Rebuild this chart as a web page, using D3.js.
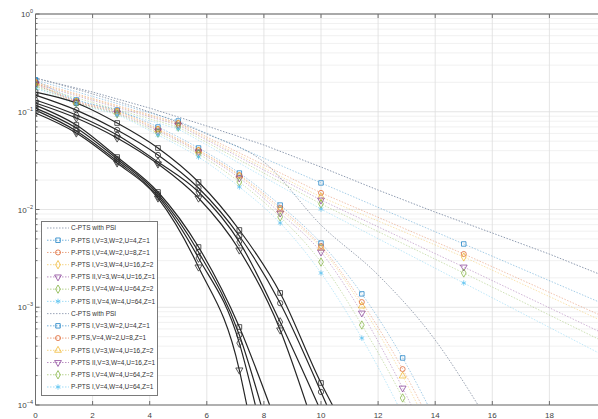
<!DOCTYPE html>
<html><head><meta charset="utf-8">
<script src="https://cdn.jsdelivr.net/npm/d3@7"></script>
<style>body{margin:0;background:#fff}svg{display:block}</style>
</head><body><svg id="c" width="598" height="419"></svg>
<script>
// ---------- data ----------
const xTicks = [0,2,4,6,8,10,12,14,16,18,20];
const xTickLabels = ["0","2","4","6","8","10","12","14","16","18"];
const yExps = [0,-1,-2,-3,-4];
const legendLabels = [
  "C-PTS with PSI",
  "P-PTS I,V=3,W=2,U=4,Z=1",
  "P-PTS I,V=4,W=2,U=8,Z=1",
  "P-PTS I,V=3,W=4,U=16,Z=2",
  "P-PTS II,V=3,W=4,U=16,Z=1",
  "P-PTS I,V=4,W=4,U=64,Z=2",
  "P-PTS II,V=4,W=4,U=64,Z=1",
  "C-PTS with PSI",
  "P-PTS I,V=3,W=2,U=4,Z=1",
  "P-PTS,V=4,W=2,U=8,Z=1",
  "P-PTS I,V=3,W=4,U=16,Z=2",
  "P-PTS II,V=3,W=4,U=16,Z=1",
  "P-PTS I,V=4,W=4,U=64,Z=2",
  "P-PTS I,V=4,W=4,U=64,Z=1"
];
const seriesColors = ["#0072BD","#D95319","#EDB120","#7E2F8E","#77AC30","#4DBEEE"];
const set1Markers = ["square","circle","diamond","triDown","diamond","asterisk"];
const set2Markers = ["square","circle","triUp","triDown","diamond","asterisk"];

// set 1: C-PTS reference line and slow-decaying P-PTS curves
const cpts1X = [0,2,4,6,8,10,12,14,16,18,20];
const cpts1Y = [0.221,0.159,0.109,0.0715,0.0457,0.0272,0.0158,0.0094,0.00575,0.0035,0.00204];
const set1X = [0,5,10,15,20];
const set1Y = [
  [0.211,0.0804,0.0187,0.00444,0.00105],
  [0.201,0.0767,0.0148,0.00351,0.000776],
  [0.197,0.0749,0.0134,0.00327,0.00069],
  [0.192,0.0732,0.0125,0.00258,0.00052],
  [0.183,0.0698,0.0114,0.00224,0.00043],
  [0.175,0.0667,0.0101,0.00177,0.00031]
];
// set 2: C-PTS reference line and fast-decaying P-PTS curves
const cpts2X = [0,2,4,6,8,10,12,14,15.5];
const cpts2Y = [0.221,0.152,0.0994,0.0592,0.0306,0.00694,0.00214,0.000462,0.0001];
const set2X = [0,1.43,2.86,4.29,5.71,7.14,8.57,10,11.43,12.86,14.29];
const set2Y = [
  [0.211,0.132,0.104,0.0698,0.0426,0.0236,0.0111,0.00454,0.00137,0.000303,0.000048],
  [0.201,0.129,0.102,0.0667,0.0406,0.0225,0.0104,0.00423,0.00113,0.000233,0.000035],
  [0.197,0.126,0.0994,0.0651,0.0397,0.0220,0.00989,0.00404,0.00103,0.000198,0.000028],
  [0.192,0.126,0.097,0.0636,0.0388,0.0210,0.0092,0.00367,0.000873,0.000149,0.000020],
  [0.183,0.123,0.0948,0.0606,0.0370,0.0191,0.00838,0.0029,0.000658,0.000118,0.000015],
  [0.175,0.120,0.0927,0.0578,0.0344,0.0170,0.00728,0.00224,0.000484,0.0000794,0.00001]
];
// solid black curves
const blackX = [
  [0,1.43,2.86,4.29,5.71,7.14,8.57,10,10.4],
  [0,1.43,2.86,4.29,5.71,7.14,8.57,10,10.2],
  [0,1.43,2.86,4.29,5.71,7.14,8.57,9.9],
  [0,1.43,2.86,4.29,5.71,7.14,8.57,9.5],
  [0,1.43,2.86,4.29,5.71,7.14,8.2],
  [0,1.43,2.86,4.29,5.71,7.14,7.9],
  [0,1.43,2.86,4.29,5.71,7.14,7.7],
  [0,1.43,2.86,4.29,5.71,7.14,7.4]
];
const blackY = [
  [0.159,0.123,0.0767,0.0426,0.0191,0.00617,0.0014,0.000168,0.0001],
  [0.148,0.104,0.0651,0.0361,0.0166,0.00536,0.0011,0.000136,0.0001],
  [0.132,0.0927,0.0578,0.0306,0.0151,0.00466,0.000706,0.0001],
  [0.123,0.0863,0.0539,0.0292,0.0131,0.00385,0.000585,0.0001],
  [0.117,0.0732,0.0344,0.0151,0.00413,0.000628,0.0001],
  [0.109,0.0682,0.0329,0.0144,0.00367,0.00052,0.0001],
  [0.104,0.0636,0.0313,0.0137,0.00319,0.00043,0.0001],
  [0.097,0.0606,0.0299,0.0131,0.00258,0.000228,0.0001]
];
const blackMarkers = ["square","circle","diamond","triDown","square","circle","diamond","triDown"];

// ---------- drawing ----------
const svg = d3.select("#c");
const L = 35.5, T = 14, B = 405, R = 606.5;
const x = d3.scaleLinear().domain([0,20]).range([L,R]);
const y = d3.scaleLog().domain([1e-4,1]).range([B,T]);

svg.append("defs").append("clipPath").attr("id","clip")
  .append("rect").attr("x",L).attr("y",T).attr("width",R-L).attr("height",B-T);

// grid
const grid = svg.append("g");
for (let d=-4; d<0; d++) for (let k=2;k<=9;k++){
  const v = k*Math.pow(10,d);
  grid.append("line").attr("x1",L).attr("x2",R).attr("y1",y(v)).attr("y2",y(v))
    .attr("stroke","#ebebeb").attr("stroke-width",0.7);
}
yExps.forEach(e=>{
  grid.append("line").attr("x1",L).attr("x2",R).attr("y1",y(Math.pow(10,e))).attr("y2",y(Math.pow(10,e)))
    .attr("stroke","#dedede").attr("stroke-width",0.8);
});
xTicks.forEach(t=>{
  grid.append("line").attr("x1",x(t)).attr("x2",x(t)).attr("y1",T).attr("y2",B)
    .attr("stroke","#dedede").attr("stroke-width",0.8);
});

function symType(name){
  if(name==="square") return d3.symbolSquare;
  if(name==="circle") return d3.symbolCircle;
  if(name==="diamond") return d3.symbolDiamond;
  if(name==="asterisk") return d3.symbolAsterisk;
  return d3.symbolTriangle;
}
function drawMarker(g, name, cx, cy, color, size, op){
  g.append("path").attr("d", d3.symbol().type(symType(name)).size(size)())
    .attr("transform", `translate(${cx},${cy})` + (name==="triDown"?" rotate(180)":""))
    .attr("fill","none").attr("stroke",color).attr("stroke-opacity",op).attr("stroke-width",0.9);
}

const plot = svg.append("g").attr("clip-path","url(#clip)");
const lineLin = d3.line().x(d=>x(d[0])).y(d=>y(d[1]));
const lineSmooth = d3.line().x(d=>x(d[0])).y(d=>y(d[1])).curve(d3.curveMonotoneX);

// C-PTS reference lines
plot.append("path").attr("d", lineLin(d3.zip(cpts1X,cpts1Y)))
  .attr("fill","none").attr("stroke","#8e9bb0").attr("stroke-width",1).attr("stroke-dasharray","1.5,1.5");
plot.append("path").attr("d", lineSmooth(d3.zip(cpts2X,cpts2Y)))
  .attr("fill","none").attr("stroke","#9aa3b2").attr("stroke-width",1).attr("stroke-dasharray","1.5,1.5");

// set 1 lines
set1Y.forEach((ys,i)=>{
  plot.append("path").attr("d", lineLin(d3.zip(set1X,ys)))
    .attr("fill","none").attr("stroke",seriesColors[i]).attr("stroke-opacity",0.4)
    .attr("stroke-width",0.9).attr("stroke-dasharray","1.5,1.5");
});
// set 2 lines
set2Y.forEach((ys,i)=>{
  plot.append("path").attr("d", lineSmooth(d3.zip(set2X,ys)))
    .attr("fill","none").attr("stroke",seriesColors[i]).attr("stroke-opacity",0.4)
    .attr("stroke-width",0.9).attr("stroke-dasharray","1.5,1.5");
});
// black solid lines
blackY.forEach((ys,i)=>{
  plot.append("path").attr("d", lineSmooth(d3.zip(blackX[i],ys)))
    .attr("fill","none").attr("stroke","#262626").attr("stroke-width",1.2);
});
// markers
blackY.forEach((ys,i)=>{
  ys.forEach((v,j)=>{ if(j<ys.length-1) drawMarker(plot, blackMarkers[i], x(blackX[i][j]), y(v), "#303030", 22, 0.9); });
});
set1Y.forEach((ys,i)=>{
  ys.forEach((v,j)=>drawMarker(plot, set1Markers[i], x(set1X[j]), y(v), seriesColors[i], 20, 0.75));
});
set2Y.forEach((ys,i)=>{
  ys.forEach((v,j)=>drawMarker(plot, set2Markers[i], x(set2X[j]), y(v), seriesColors[i], 20, 0.75));
});

// axes
const ax = svg.append("g").attr("stroke","#6e6e6e").attr("stroke-width",1);
ax.append("line").attr("x1",L).attr("x2",L).attr("y1",T).attr("y2",B);
ax.append("line").attr("x1",L).attr("x2",R).attr("y1",B).attr("y2",B);
ax.append("line").attr("x1",L).attr("x2",R).attr("y1",T).attr("y2",T).attr("stroke","#909090").attr("stroke-width",1.4);
xTicks.forEach(t=>{
  ax.append("line").attr("x1",x(t)).attr("x2",x(t)).attr("y1",B).attr("y2",B-4);
  ax.append("line").attr("x1",x(t)).attr("x2",x(t)).attr("y1",T).attr("y2",T+4);
});
for (let d=-4; d<=0; d++){
  ax.append("line").attr("x1",L).attr("x2",L+4).attr("y1",y(Math.pow(10,d))).attr("y2",y(Math.pow(10,d)));
  if(d<0) for(let k=2;k<=9;k++){
    const v=k*Math.pow(10,d);
    ax.append("line").attr("x1",L).attr("x2",L+2).attr("y1",y(v)).attr("y2",y(v));
  }
}
// tick labels
const lab = svg.append("g").attr("font-family","Liberation Sans, Arial, sans-serif").attr("fill","#444");
xTickLabels.forEach((s,i)=>{
  lab.append("text").attr("x",x(xTicks[i])).attr("y",418).attr("text-anchor","middle").attr("font-size",8).text(s);
});
yExps.forEach(e=>{
  const t = lab.append("text").attr("x",33).attr("y",y(Math.pow(10,e))+3).attr("text-anchor","end").attr("font-size",8);
  t.append("tspan").text("10");
  t.append("tspan").attr("dy",-4).attr("font-size",5.5).text(String(e).replace("-","\u2212"));
});

// legend
const lg = svg.append("g");
lg.append("rect").attr("x",41.5).attr("y",221.5).attr("width",116).attr("height",174)
  .attr("fill","#fff").attr("stroke","#7a7a7a").attr("stroke-width",1);
legendLabels.forEach((txt,i)=>{
  const cy = 228 + i*12.23;
  const isC = (i===0 || i===7);
  const si = i<7 ? i-1 : i-8;
  const col = isC ? "#8e9bb0" : seriesColors[si];
  lg.append("line").attr("x1",47).attr("x2",69).attr("y1",cy).attr("y2",cy)
    .attr("stroke",col).attr("stroke-opacity",isC?1:0.6).attr("stroke-width",0.9).attr("stroke-dasharray","1.5,1.5");
  if(!isC) drawMarker(lg, i<7?set1Markers[si]:set2Markers[si], 58, cy, col, 20, 0.8);
  lg.append("text").attr("x",71).attr("y",cy+2.3).attr("font-size",6.5)
    .attr("font-family","Liberation Sans, Arial, sans-serif").attr("fill","#333").text(txt);
});
</script></body></html>
